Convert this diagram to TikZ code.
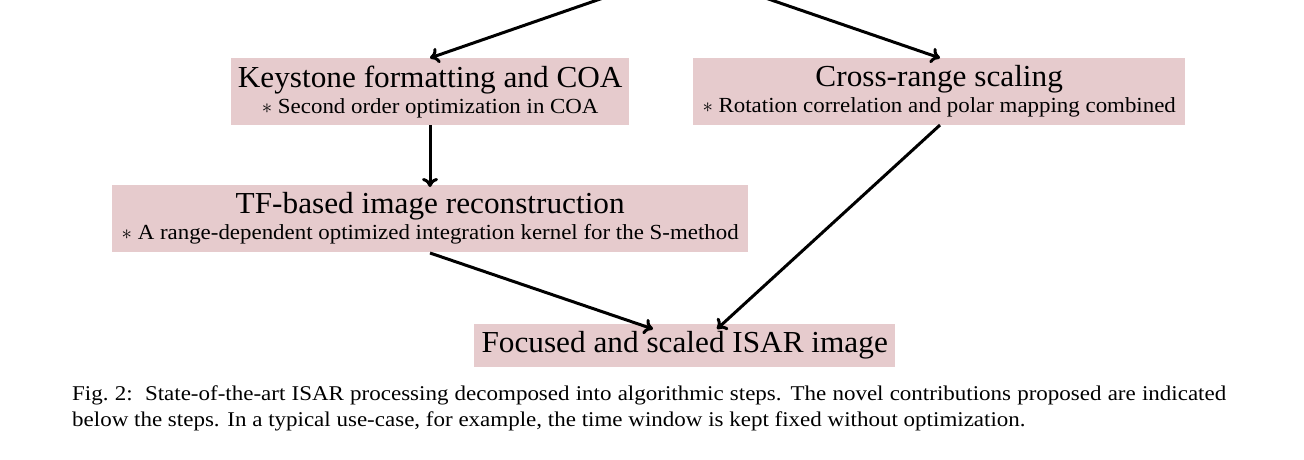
\documentclass[tikz,border=0pt]{standalone}
\usepackage{fontspec}
\setmainfont{Liberation Serif}
\newfontfamily\titlefont[FakeStretch=1.025]{Liberation Serif}
\newfontfamily\subfont[FakeStretch=1.065]{Liberation Serif}
\newfontfamily\capfont[FakeStretch=1.095]{Liberation Serif}
\usetikzlibrary{arrows.meta}
\definecolor{boxfill}{RGB}{230,203,205}
\newcommand{\sub}[1]{{\subfont\fontsize{21.5}{26}\selectfont $\ast$ #1}}
\begin{document}
\begin{tikzpicture}[x=1pt,y=-1pt,
  stepbox/.style={fill=boxfill, inner sep=0pt, align=center, anchor=north west,
    font=\titlefont\fontsize{30.5}{26}\selectfont},
  conn/.style={line width=3pt, -{To[length=9pt,width=16pt,line width=3pt]}}]
\useasboundingbox (0,0) rectangle (1304,460);
\clip (0,0) rectangle (1304,460);
\coordinate (src) at (684,-30);
\node[stepbox, minimum width=398pt, minimum height=67pt] (key) at (231,58)
  {Keystone formatting and COA\\ \sub{Second order optimization in COA}};
\node[stepbox, minimum width=492pt, minimum height=67pt] (cross) at (693,58)
  {Cross-range scaling\\ \sub{Rotation correlation and polar mapping combined}};
\node[stepbox, minimum width=636pt, minimum height=67pt] (tf) at (112,185)
  {TF-based image reconstruction\\ \sub{A range-dependent optimized integration kernel for the S-method}};
\node[stepbox, minimum width=421pt, minimum height=43pt] (foc) at (474,324)
  {Focused and scaled ISAR image};
\coordinate (keyin) at (430,58);
\coordinate (crossin) at (940,58);
\coordinate (keyout) at (430,125);
\coordinate (tfin) at (430,187);
\coordinate (tfout) at (430,253);
\coordinate (crossout) at (940,125);
\coordinate (focinA) at (653,329);
\coordinate (focinB) at (717,329);
\draw[conn] (src) -- (keyin);
\draw[conn] (src) -- (crossin);
\draw[conn] (keyout) -- (tfin);
\draw[conn] (tfout) -- (focinA);
\draw[conn] (crossout) -- (focinB);
\node[anchor=north west, inner sep=0pt, text width=1154pt, align=justify,
  font=\capfont\fontsize{21}{25.5}\selectfont] (cap) at (72,386)
  {Fig.~2:\ \ State-of-the-art ISAR processing decomposed into algorithmic steps. The novel contributions proposed are indicated below the steps. In a typical use-case, for example, the time window is kept fixed without optimization.};
\end{tikzpicture}
\end{document}
